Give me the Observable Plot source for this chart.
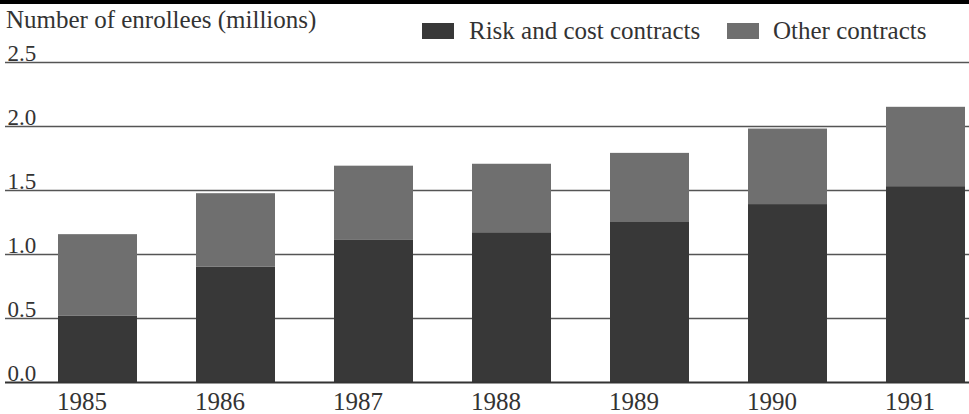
<!DOCTYPE html>
<html>
<head>
<meta charset="utf-8">
<script src="https://cdn.jsdelivr.net/npm/d3@7"></script>
<script src="https://cdn.jsdelivr.net/npm/@observablehq/plot@0.6"></script>
<style>
  html, body { margin: 0; padding: 0; background: #fff; }
  #wrap { width: 969px; font-family: "Liberation Serif", "DejaVu Serif", serif; color: #333; }
  #head { position: relative; width: 969px; height: 40px; box-sizing: border-box; border-top: 4px solid #000; }
  #title { position: absolute; left: 6px; top: 2px; font-family: "Liberation Serif", serif; font-size: 25px; line-height: normal; white-space: nowrap; }
  .sw { position: absolute; top: 19px; width: 32px; height: 16px; }
  .lg { position: absolute; top: 13px; font-family: "Liberation Serif", serif; font-size: 25px; line-height: normal; white-space: nowrap; }
  svg { display: block; }
</style>
</head>
<body>
<div id="wrap">
  <div id="head">
    <div id="title">Number of enrollees (millions)</div>
  </div>
  <div id="chart"></div>
</div>
<script>
const years = ["1985", "1986", "1987", "1988", "1989", "1990", "1991"];
const riskCost = [0.52, 0.90, 1.11, 1.17, 1.25, 1.39, 1.53];
const other = [0.635, 0.575, 0.58, 0.535, 0.54, 0.59, 0.62];
const seriesNames = ["Risk and cost contracts", "Other contracts"];
const seriesColors = ["#383838", "#6f6f6f"];
const yTicks = [0, 0.5, 1.0, 1.5, 2.0, 2.5];

const rows = [];
years.forEach((y, i) => {
  rows.push({year: y, series: seriesNames[0], value: riskCost[i]});
  rows.push({year: y, series: seriesNames[1], value: other[i]});
});

// legend
const head = document.getElementById("head");
const legendPos = [{sw: 422, tx: 469}, {sw: 727, tx: 773}];
seriesNames.forEach((name, i) => {
  const s = document.createElement("div");
  s.className = "sw";
  s.style.left = legendPos[i].sw + "px";
  s.style.background = seriesColors[i];
  head.appendChild(s);
  const t = document.createElement("div");
  t.className = "lg";
  t.style.left = legendPos[i].tx + "px";
  t.textContent = name;
  head.appendChild(t);
});

const chart = Plot.plot({
  width: 969,
  height: 374,
  marginLeft: 5,
  marginRight: 0,
  marginTop: 22,
  marginBottom: 32,
  style: {fontFamily: "Liberation Serif, DejaVu Serif, serif", color: "#333", background: "#fff"},
  x: {domain: years, paddingInner: 0.4275, paddingOuter: 0.206, align: 0.93, label: null},
  y: {domain: [0, 2.5], label: null, axis: null},
  color: {domain: seriesNames, range: seriesColors},
  marks: [
    Plot.ruleY(yTicks.filter(d => d > 0), {stroke: "#555", strokeWidth: 1.6}),
    Plot.barY(rows, {x: "year", y: "value", fill: "series", order: seriesNames}),
    Plot.ruleY([0], {stroke: "#333", strokeWidth: 2}),
    Plot.text(yTicks, {
      y: d => d, text: d => d.toFixed(1), frameAnchor: "left",
      textAnchor: "start", lineAnchor: "bottom", dx: 2, dy: -2,
      fontSize: 23, fill: "#333"
    }),
    Plot.axisX({tickSize: 0, tickPadding: 10, fontSize: 25, dx: -16, fill: "#333"})
  ]
});
document.getElementById("chart").appendChild(chart);
</script>
</body>
</html>
